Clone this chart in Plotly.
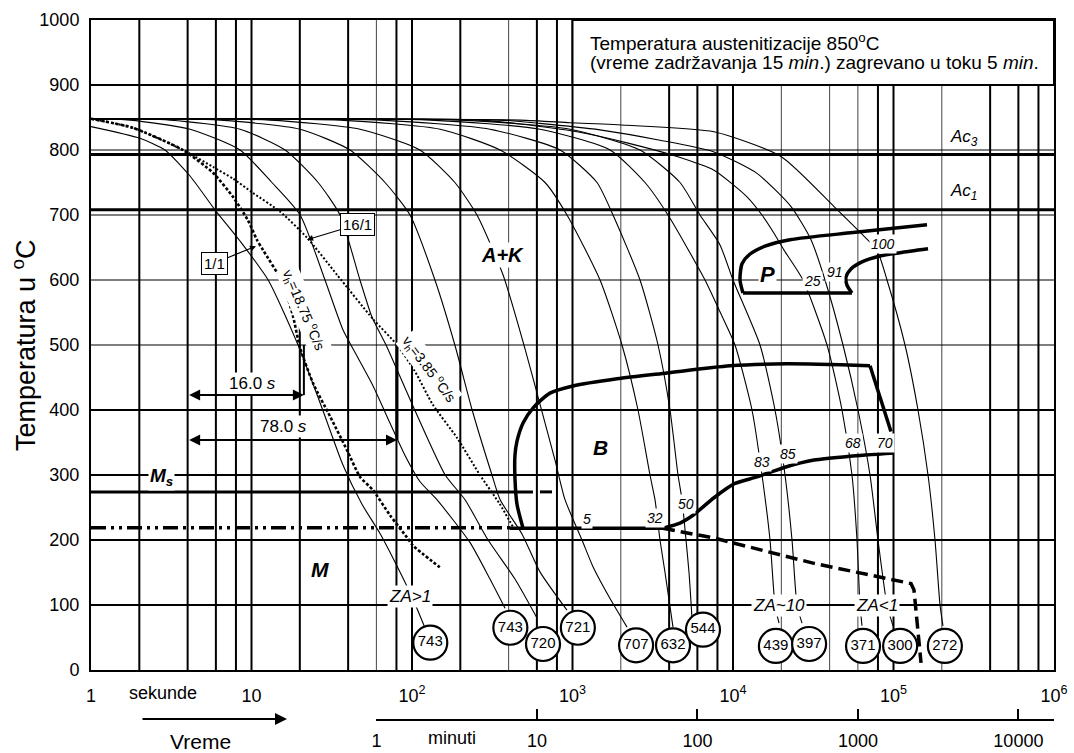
import numpy as np
import plotly.graph_objects as go

FONT = "Arial, 'Liberation Sans', sans-serif"

# ---------------- grid ----------------
grid_time_bold = [2, 4, 6, 8, 10, 20, 40, 80, 100, 200, 600, 800, 1000,
                  4000, 6000, 8000, 10000, 80000, 100000, 400000, 600000, 800000]
grid_time_fine = [60, 400, 2000, 20000, 40000, 60000, 200000]
grid_temp_bold = [100, 200, 300, 400, 900]
grid_temp_fine = [500, 600, 700, 800]

# ---------------- critical temperatures [°C] ----------------
temp_ac3 = 793
temp_ac1 = 708
temp_ms = 274
temp_mf = 219

# ---------------- cooling curves: time [s], temperature [°C] ----------------
t_hv743a = [1, 2.02, 2.89, 4.14, 5.92, 8.48, 12.7, 19.5, 27.5, 37.2, 48.8, 63.2, 80.6, 101, 119]
T_hv743a = [836, 818, 800, 760, 708, 660, 600, 500, 403, 315, 255, 210, 160, 110, 68]

t_hv743b = [1, 1.75, 4.14, 8.48, 13.4, 20.1, 28.7, 37.2, 45.4, 57.2, 72.9, 90.5, 112, 143, 230, 306, 380]
T_hv743b = [848, 846, 832, 800, 750, 700, 600, 523, 483, 437, 380, 330, 290, 262, 196, 140, 95]

t_hv720 = [1, 3.11, 8.48, 16.2, 26.0, 35.6, 47.4, 56.3, 68.9, 104, 161, 214, 298, 438, 601]
T_hv720 = [848, 846, 832, 800, 750, 700, 600, 543, 500, 400, 300, 262, 200, 140, 80]

t_hv721 = [1, 6.37, 20.1, 41.1, 67.9, 97.2, 139, 185, 237, 315, 354, 485, 627, 924]
T_hv721 = [848, 846, 832, 800, 750, 700, 600, 500, 400, 300, 262, 209, 151, 92]

t_hv707 = [1, 13.0, 47.4, 112, 185, 254, 369, 506, 627, 778, 898, 1146, 1342, 1713, 2186]
T_hv707 = [848, 846, 832, 800, 750, 700, 608, 494, 409, 323, 262, 200, 159, 110, 66]

t_hv632 = [1, 35.6, 150, 354, 674, 924, 1484, 2034, 2559, 3040, 3266, 3510, 3771, 4228]
T_hv632 = [848, 846, 832, 800, 750, 700, 600, 500, 400, 300, 262, 200, 150, 66]

t_hv544 = [1, 63.2, 306, 836, 1421, 1788, 2634, 3411, 4050, 4544, 4811, 5097, 5320, 5553]
T_hv544 = [848, 846, 832, 800, 750, 700, 600, 500, 400, 300, 262, 200, 150, 80]

t_hv439 = [1, 130, 627, 1713, 2829, 3936, 6692, 8298, 10290, 13135, 15160, 17005, 18270, 19350]
T_hv439 = [848, 846, 832, 800, 750, 700, 600, 551, 500, 400, 300, 200, 100, 72]

t_hv397 = [1, 199, 965, 2634, 4675, 6228, 8298, 10000, 14730, 18270, 21090, 23320, 25050, 26910]
T_hv397 = [848, 846, 832, 800, 750, 700, 654, 600, 500, 400, 300, 200, 100, 72]

t_hv371 = [1, 265, 471, 1067, 2186, 4479, 7613, 12225, 15160, 18010, 20790, 27300, 38530,
           47770, 55120, 59240, 61840, 63630]
T_hv371 = [848, 846, 840, 828, 811, 790, 769, 728, 700, 672, 646, 600, 500, 400, 300, 200, 100, 68]

t_hv300 = [1, 354, 627, 1484, 3510, 7613, 14110, 22990, 30620, 37440, 48460, 60100, 71390,
           80070, 91090, 99290]
T_hv300 = [848, 846, 841, 831, 815, 797, 764, 713, 662, 600, 500, 400, 300, 200, 100, 68]

t_hv272 = [1, 471, 965, 2186, 7613, 19910, 42600, 62730, 78930, 91090, 117960, 142100,
           164100, 181400, 194900, 203400]
T_hv272 = [848, 846, 842, 838, 828, 790, 713, 672, 646, 600, 500, 400, 300, 200, 100, 68]

# Jominy-equivalent cooling curves (dotted)
t_vh1875 = [1, 1.83, 3.74, 5.75, 7.66, 9.5, 10.8, 11.8, 15.7, 18.2, 20.0, 24.2, 30.9, 39.4,
            47.5, 57.0, 73.0, 93.0, 101, 149]
T_vh1875 = [848, 834, 800, 765, 728, 692, 662, 646, 595, 543, 497, 441, 390, 338, 297, 277,
            238, 204, 192, 158]

t_vh385 = [1, 1.83, 3.74, 5.75, 7.67, 10.2, 15.1, 22.2, 34.1, 57.1, 80.7, 104, 135, 191, 265, 353, 426]
T_vh385 = [848, 834, 800, 774, 756, 734, 705, 665, 608, 540, 500, 460, 408, 357, 300, 255, 220]

# ---------------- transformation regions ----------------
t_bs = [492, 451, 438, 438, 451, 492, 567, 724, 1007, 1893, 3879, 9575, 21690, 71390]
T_bs = [218, 255, 295, 330, 352, 380, 403, 426, 437, 448, 457, 468, 471, 468]
t_bs_end = [71390, 96420]
T_bs_end = [468, 367]

t_b_floor = [408, 3664]
T_b_floor = [218, 218]

t_bf = [3664, 4675, 5633, 7613, 10290, 14110, 21080, 31970, 53580, 100700]
T_bf = [218, 226, 238, 265, 287, 297, 312, 323, 329, 334]

t_mf_tail = [3664, 7613, 31970, 128500, 134200, 148400]
T_mf_tail = [218, 203, 164, 133, 123, 11]

t_p_outer = [161700, 55940, 22650, 15820, 12770, 11380, 11060, 11540]
T_p_outer = [685, 673, 662, 652, 640, 625, 600, 580]
t_p_base = [11540, 55100]
T_p_base = [580, 580]
t_p_inner = [55100, 51300, 50600, 54300, 63630, 82400, 109700, 164100]
T_p_inner = [580, 592, 605, 617, 628, 637, 642, 648]

t_ms_solid = [1, 567]
t_ms_dash = [627, 745]

# ---------------- hardness circles (HV) ----------------
circle_t = [130, 410, 655, 1080, 2490, 4230, 6500, 18500, 29800, 64600, 110000, 209000]
circle_T = [42, 65, 40, 65, 38, 38, 62, 37, 40, 37, 37, 37]
circle_hv = ["743", "743", "720", "721", "707", "632", "544", "439", "397", "371", "300", "272"]

# ---------------- measured intervals ----------------
dim_start = 4
dim16_end, dim16_T = 21.2, 423
dim78_end, dim78_T = 80.6, 354
dim_bar_top = 500

# ---------------- axis tick labels ----------------
sec_ticks = [1, 10, 100, 1000, 10000, 100000, 1000000]
sec_labels = ["1", "10", "10<sup>2</sup>", "10<sup>3</sup>", "10<sup>4</sup>",
              "10<sup>5</sup>", "10<sup>6</sup>"]
min_ticks = [1, 10, 100, 1000, 10000]
min_labels = ["1", "10", "100", "1000", "10000"]
temp_ticks = list(range(0, 1001, 100))

# page geometry (pixels) used to place captions outside the axes
W, H = 1074, 753
ML, MR, MT, MB = 91, 20, 20, 5
AX_BOTTOM_PX = 670
MIN_AXIS_PX = 720


def px_x(px):
    return (px - ML) / (W - ML - MR)


def px_y(py):
    return (H - MB - py) / (H - MT - MB)


def vlines(values):
    xs, ys = [], []
    for v in values:
        xs += [v, v, None]
        ys += [0, 1000, None]
    return xs, ys


def hlines(values):
    xs, ys = [], []
    for v in values:
        xs += [1, 1e6, None]
        ys += [v, v, None]
    return xs, ys


fig = go.Figure()


def line(x, y, width=1.1, dash="solid", shape="linear", smoothing=0.6, color="black"):
    kw = dict(shape=shape, width=width, dash=dash, color=color)
    if shape == "spline":
        kw["smoothing"] = smoothing
    fig.add_trace(go.Scatter(x=x, y=y, mode="lines", line=kw, hoverinfo="skip",
                             showlegend=False, connectgaps=False))


# grid
gx, gy = vlines(grid_time_bold)
line(gx, gy, width=2)
gx, gy = vlines(grid_time_fine)
line(gx, gy, width=1, color="#444")
gx, gy = hlines(grid_temp_bold)
line(gx, gy, width=2)
gx, gy = hlines(grid_temp_fine)
line(gx, gy, width=1.2)

# Ac3 / Ac1
line([1, 1e6], [temp_ac3, temp_ac3], width=3)
line([1, 1e6], [temp_ac1, temp_ac1], width=3)

# cooling curves
curves = [(t_hv743a, T_hv743a), (t_hv743b, T_hv743b), (t_hv720, T_hv720),
          (t_hv721, T_hv721), (t_hv707, T_hv707), (t_hv632, T_hv632),
          (t_hv544, T_hv544), (t_hv439, T_hv439), (t_hv397, T_hv397),
          (t_hv371, T_hv371), (t_hv300, T_hv300), (t_hv272, T_hv272)]
for ct, cT in curves:
    line(ct, cT, width=1.1, shape="spline")

line(t_vh1875, T_vh1875, width=2.6, dash="3px,2px", shape="spline")
line(t_vh385, T_vh385, width=2, dash="2px,2px", shape="spline")

# Ms and martensite finish
line(t_ms_solid, [temp_ms, temp_ms], width=3)
line(t_ms_dash, [temp_ms, temp_ms], width=3)
line([1, 408], [temp_mf, temp_mf], width=3.5, dash="15px,5px,3px,5px,3px,5px")

# bainite field
line(t_bs, T_bs, width=3.5, shape="spline", smoothing=0.7)
line(t_bs_end, T_bs_end, width=3.5)
line(t_b_floor, T_b_floor, width=3.5)
line(t_bf, T_bf, width=3.5, shape="spline", smoothing=0.6)
line(t_mf_tail, T_mf_tail, width=3.5, dash="12px,6px")

# pearlite field
line(t_p_outer, T_p_outer, width=3.5, shape="spline", smoothing=0.7)
line(t_p_base, T_p_base, width=3.5)
line(t_p_inner, T_p_inner, width=3.5, shape="spline", smoothing=0.7)

# measured intervals (vertical bars)
line([dim16_end, dim16_end], [dim_bar_top, dim16_T], width=2)
line([dim78_end, dim78_end], [dim_bar_top, dim78_T], width=3)

# hardness circles
fig.add_trace(go.Scatter(
    x=circle_t, y=circle_T, mode="markers+text", text=circle_hv,
    textposition="middle center", textfont=dict(family=FONT, size=15, color="black"),
    marker=dict(size=34, color="white", line=dict(color="black", width=2.2)),
    hoverinfo="skip", showlegend=False, cliponaxis=False))

# minutes axis carrier
fig.add_trace(go.Scatter(x=[1, 10000], y=[-100, -100], xaxis="x2", yaxis="y",
                         mode="lines", line=dict(width=0), hoverinfo="skip", showlegend=False))

L = np.log10
ann = []


def label(t, T, text, size=14, bold=False, italic=False, bg=None, angle=0, **kw):
    if italic:
        text = "<i>" + text + "</i>"
    if bold:
        text = "<b>" + text + "</b>"
    d = dict(x=L(t), y=T, xref="x", yref="y", text=text, showarrow=False,
             xanchor="center", yanchor="middle",
             font=dict(family=FONT, size=size, color="black"), textangle=angle)
    if bg:
        d.update(bgcolor=bg, borderpad=1)
    d.update(kw)
    ann.append(d)


def caption(px, py, text, size=18, **kw):
    d = dict(x=px_x(px), y=px_y(py), xref="paper", yref="paper", text=text,
             showarrow=False, xanchor="center", yanchor="middle",
             font=dict(family=FONT, size=size, color="black"))
    d.update(kw)
    ann.append(d)


label(364, 638, "A+K", 20, bold=True, italic=True, bg="white")
label(1484, 343, "B", 21, bold=True, italic=True)
label(26.7, 155, "M", 21, bold=True, italic=True)
label(16520, 608, "P", 22, bold=True, italic=True, bg="white")
label(2.73, 297, "<b><i>M</i></b><sub><b><i>s</i></b></sub>", 19, bg="white")

for t, T, txt in [(1231, 232, "5"), (3266, 234, "32"), (5096, 256, "50"),
                  (15100, 320, "83"), (22020, 332, "85"), (55940, 349, "68"),
                  (88520, 350, "70"), (31500, 599, "25"), (43220, 612, "91"),
                  (86050, 656, "100")]:
    label(t, T, txt, 14, italic=True, bg="white")

label(97.2, 113, "ZA>1", 17, italic=True, bg="white")
label(19360, 100, "ZA~10", 17, italic=True, bg="white")
label(78900, 100, "ZA<1", 17, italic=True, bg="white")

label(274800, 818, "Ac<sub>3</sub>", 17, italic=True)
label(274800, 735, "Ac<sub>1</sub>", 17, italic=True)

label(21.2, 554, "v<sub>h</sub>=18.75 <sup>o</sup>C/s", 14, bg="white", angle=67)
label(127.6, 463, "v<sub>h</sub>=3.85 <sup>o</sup>C/s", 14, bg="white", angle=53)

label(10.2, 441, "16.0 <i>s</i>", 17, bg="white")
label(15.9, 375, "78.0 <i>s</i>", 17, bg="white")

# boxed curve tags with arrows
ann.append(dict(x=L(10.67), y=652, xref="x", yref="y", text="1/1", showarrow=True,
                ax=-42, ay=17, arrowhead=2, arrowsize=1, arrowwidth=1.2, arrowcolor="black",
                font=dict(family=FONT, size=15, color="black"), bgcolor="white",
                bordercolor="black", borderwidth=1, borderpad=2))
ann.append(dict(x=L(22.2), y=662, xref="x", yref="y", text="16/1", showarrow=True,
                ax=50, ay=-15, arrowhead=2, arrowsize=1, arrowwidth=1.2, arrowcolor="black",
                font=dict(family=FONT, size=15, color="black"), bgcolor="white",
                bordercolor="black", borderwidth=1, borderpad=2))

# interval arrows
for t_end, T in [(dim16_end, dim16_T), (dim78_end, dim78_T)]:
    ann.append(dict(x=L(t_end), y=T, ax=L(dim_start), ay=T, xref="x", yref="y",
                    axref="x", ayref="y", text="", showarrow=True, arrowside="end+start",
                    arrowhead=2, startarrowhead=2, arrowsize=1.1, startarrowsize=1.1,
                    arrowwidth=2, arrowcolor="black"))

# header text box
ann.append(dict(x=L(1249), y=966, xref="x", yref="y", xanchor="left", yanchor="middle",
                text="Temperatura austenitizacije 850<sup>o</sup>C", showarrow=False,
                font=dict(family=FONT, size=19, color="black")))
ann.append(dict(x=L(1249), y=934, xref="x", yref="y", xanchor="left", yanchor="middle",
                text="(vreme zadržavanja 15 <i>min</i>.) zagrevano u toku 5 <i>min</i>.",
                showarrow=False, font=dict(family=FONT, size=19, color="black")))

# axis captions
caption(24, 345, "Temperatura u <sup>o</sup>C", 27, textangle=-90)
caption(163, 693, "sekunde", 18)
caption(200, 741, "Vreme", 21)
caption(452, 738, "minuti", 18)
ann.append(dict(x=px_x(287), y=px_y(719), xref="paper", yref="paper", text="",
                showarrow=True, ax=-146, ay=0, arrowhead=2, arrowsize=1.2, arrowwidth=2,
                arrowcolor="black"))

fig.update_layout(
    width=W, height=H,
    margin=dict(l=ML, r=MR, t=MT, b=MB, autoexpand=False),
    paper_bgcolor="white", plot_bgcolor="rgba(0,0,0,0)",
    showlegend=False, hovermode=False,
    annotations=ann,
    shapes=[dict(type="rect", xref="paper", yref="y", x0=0.5, x1=1, y0=900, y1=1000,
                 fillcolor="white", line=dict(color="black", width=2), layer="above")],
    xaxis=dict(type="log", range=[0, 6], showgrid=False, zeroline=False,
               showline=True, linecolor="black", linewidth=2, mirror=True, ticks="",
               tickvals=sec_ticks, ticktext=sec_labels, ticklabelstandoff=8,
               tickfont=dict(family=FONT, size=18, color="black")),
    yaxis=dict(range=[0, 1000], domain=[px_y(AX_BOTTOM_PX), 1], showgrid=False,
               zeroline=False, showline=True, linecolor="black", linewidth=2, mirror=True,
               ticks="", tickvals=temp_ticks, ticklabelstandoff=6,
               tickfont=dict(family=FONT, size=18, color="black")),
    xaxis2=dict(type="log", domain=[px_x(376.4), 1], range=[0, np.log10(1e6 / 60)],
                anchor="free", position=px_y(MIN_AXIS_PX), showgrid=False, zeroline=False,
                showline=True, linecolor="black", linewidth=2, ticks="inside",
                ticklen=10, tickwidth=2, tickcolor="black",
                tickvals=min_ticks, ticktext=min_labels, ticklabelstandoff=4,
                tickfont=dict(family=FONT, size=18, color="black")),
)

fig.write_html("out.html")
